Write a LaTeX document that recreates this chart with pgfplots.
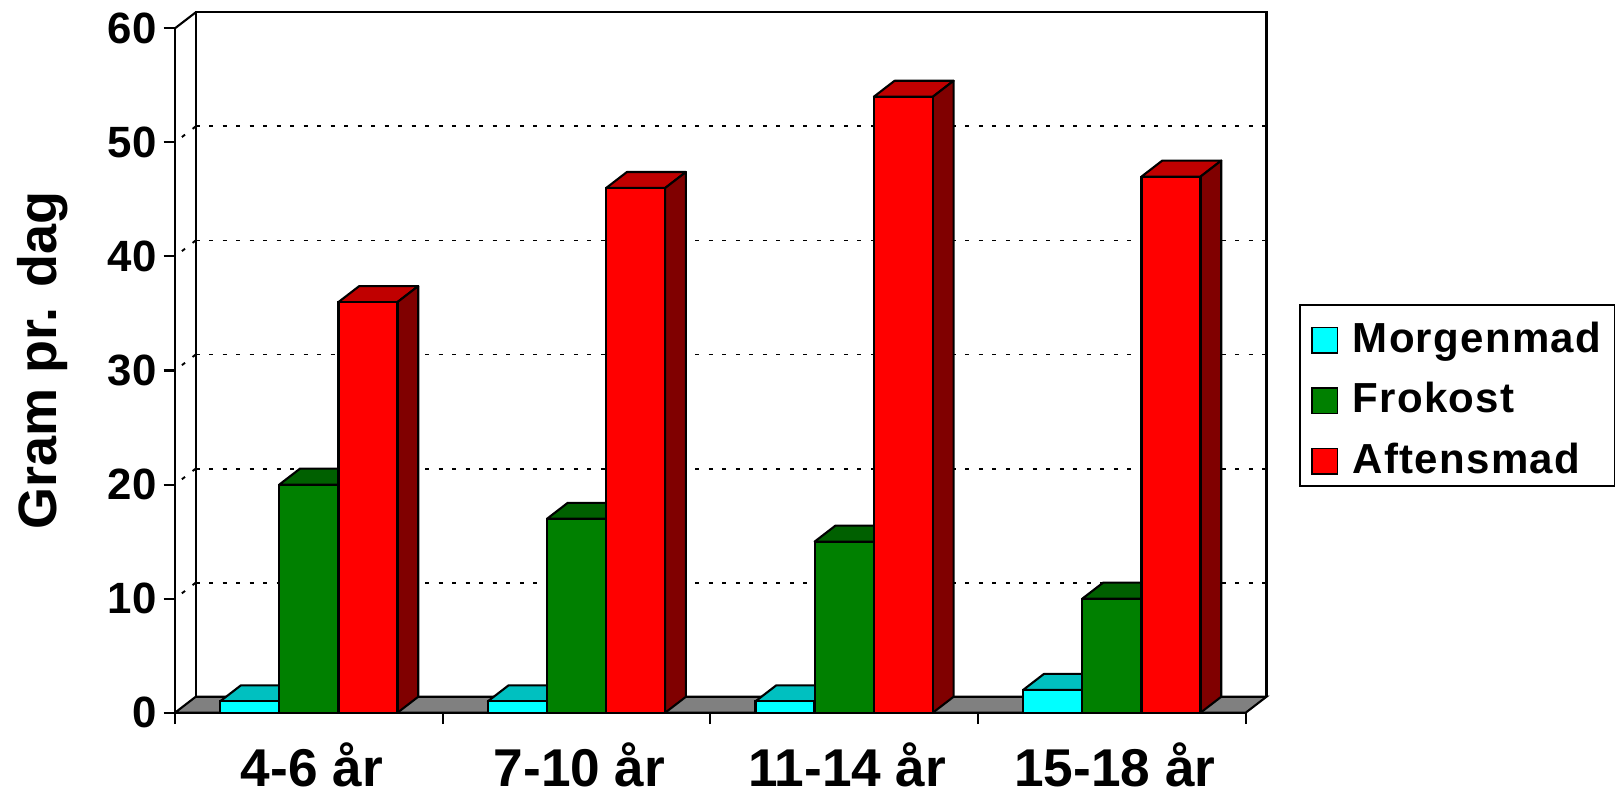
\documentclass[border=0pt]{standalone}
\usepackage{pgfplots}
\pgfplotsset{compat=1.18}
\usepackage{fontspec}
\setmainfont{Liberation Sans}
\newfontfamily\legfont[LetterSpace=3]{Liberation Sans}
\definecolor{cyF}{HTML}{00FFFF}\definecolor{cyT}{HTML}{00C0C0}
\definecolor{grF}{HTML}{008000}\definecolor{grT}{HTML}{006000}
\definecolor{reF}{HTML}{FF0000}\definecolor{reT}{HTML}{C00000}\definecolor{reS}{HTML}{800000}
\def\bw{0.2205}\def\bs{0.221}\def\dx{0.0775}\def\dy{1.40}\def\lw{1.05pt}
% top and side face of a 3-D bar: category centre, shift, value, top colour, side colour
\newcommand{\capside}[5]{%
  \pgfmathsetmacro\xl{#1+(#2)-\bw/2}%
  \pgfmathsetmacro\xr{#1+(#2)+\bw/2}%
  \pgfmathsetmacro\xlb{\xl+\dx}%
  \pgfmathsetmacro\xrb{\xr+\dx}%
  \pgfmathsetmacro\vb{#3+\dy}%
  \pgfmathsetmacro\zb{\dy}%
  \edef\tmp{\noexpand\addplot[forget plot,draw=black,line width=\lw,line join=round,fill=#4] coordinates {(\xl,#3)(\xr,#3)(\xrb,\vb)(\xlb,\vb)} --cycle;
  \noexpand\addplot[forget plot,draw=black,line width=\lw,line join=round,fill=#5] coordinates {(\xr,0)(\xr,#3)(\xrb,\vb)(\xrb,\zb)} --cycle;}%
  \tmp}
\begin{document}
\begin{tikzpicture}
\path[use as bounding box] (0,0) rectangle (810.5pt,397pt);
\begin{axis}[
  at={(87.5pt,40.65pt)},anchor=south west,
  scale only axis,width=535.35pt,height=342.2pt,
  xmin=0,xmax=4,ymin=0,ymax=60,clip=false,
  axis x line*=bottom,axis y line*=left,
  axis line style={line width=\lw,-},
  every tick/.style={black,line width=\lw},
  tick align=outside,major tick length=5.7pt,
  xtick={0,1,2,3,4},xticklabels={},
  extra x ticks={0.5,1.5,2.5,3.5},
  extra x tick labels={4-6 år,7-10 år,11-14 år,15-18 år},
  extra x tick style={major tick length=0pt,
    tick label style={font=\fontsize{26.6}{30}\selectfont\bfseries,yshift=-11.5pt,xshift=1.5pt}},
  ytick={0,10,20,30,40,50,60},
  /pgf/number format/assume math mode=true,
  yticklabel style={font=\fontsize{21.9}{24}\selectfont\bfseries},
  ylabel={Gram pr. dag},
  ylabel style={at={(axis description cs:-0.124,0.514)},anchor=center,font=\fontsize{27}{32}\selectfont\bfseries},
  legend style={at={(axis description cs:1.0498,0.597)},anchor=north west,
    draw=black,line width=0.8pt,fill=white,inner xsep=5.7pt,inner ysep=1pt,
    row sep=2.25pt,column sep=0pt,
    nodes={inner sep=1pt,text height=21.6pt,text depth=4.4pt},
    font=\legfont\fontsize{21}{24}\selectfont\bfseries},
  legend cell align=left,
]
% floor
\addplot[forget plot,draw=black,line width=\lw,fill=gray] coordinates {(0,0)(4,0)(4.0775,1.40)(0.0775,1.40)} --cycle;
% back wall
\addplot[forget plot,black,line width=\lw] coordinates {(0.0775,1.40)(0.0775,61.40)(4.0775,61.40)(4.0775,1.40)};
\addplot[forget plot,black,line width=\lw] coordinates {(0,60)(0.0775,61.40)};
% dotted grid
\pgfplotsset{griddots/.style={forget plot,black,line width=0.95pt,dash pattern=on 2pt off 4.75pt}}
\addplot[griddots] coordinates {(0.0775,11.40)(4.0775,11.40)};
\addplot[griddots] coordinates {(0.0775,21.40)(4.0775,21.40)};
\addplot[griddots] coordinates {(0.0775,31.40)(4.0775,31.40)};
\addplot[griddots] coordinates {(0.0775,41.40)(4.0775,41.40)};
\addplot[griddots] coordinates {(0.0775,51.40)(4.0775,51.40)};
\addplot[griddots] coordinates {(0.0775,11.40)(0,10)};
\addplot[griddots] coordinates {(0.0775,21.40)(0,20)};
\addplot[griddots] coordinates {(0.0775,31.40)(0,30)};
\addplot[griddots] coordinates {(0.0775,41.40)(0,40)};
\addplot[griddots] coordinates {(0.0775,51.40)(0,50)};
% Morgenmad
\capside{0.5}{-\bs}{1}{cyT}{cyT}\capside{1.5}{-\bs}{1}{cyT}{cyT}\capside{2.5}{-\bs}{1}{cyT}{cyT}\capside{3.5}{-\bs}{2}{cyT}{cyT}
\addplot[forget plot,ybar,bar width=0.2205,bar shift=-0.221,draw=black,line width=\lw,fill=cyF]
  coordinates {(0.5,1)(1.5,1)(2.5,1)(3.5,2)};
% Frokost
\capside{0.5}{0}{20}{grT}{grT}\capside{1.5}{0}{17}{grT}{grT}\capside{2.5}{0}{15}{grT}{grT}\capside{3.5}{0}{10}{grT}{grT}
\addplot[forget plot,ybar,bar width=0.2205,bar shift=0,draw=black,line width=\lw,fill=grF]
  coordinates {(0.5,20)(1.5,17)(2.5,15)(3.5,10)};
% Aftensmad
\capside{0.5}{\bs}{36}{reT}{reS}\capside{1.5}{\bs}{46}{reT}{reS}\capside{2.5}{\bs}{54}{reT}{reS}\capside{3.5}{\bs}{47}{reT}{reS}
\addplot[forget plot,ybar,bar width=0.2205,bar shift=0.221,draw=black,line width=\lw,fill=reF]
  coordinates {(0.5,36)(1.5,46)(2.5,54)(3.5,47)};
% legend
\pgfplotsset{legend image code/.code={\draw[#1,line width=0.8pt] (0pt,-9pt) rectangle (12.8pt,3.8pt);\path (19pt,0pt);}}
\addlegendimage{fill=cyF,draw=black}\addlegendentry{Morgenmad}
\addlegendimage{fill=grF,draw=black}\addlegendentry{Frokost}
\addlegendimage{fill=reF,draw=black}\addlegendentry{Aftensmad}
\end{axis}
\end{tikzpicture}
\end{document}
